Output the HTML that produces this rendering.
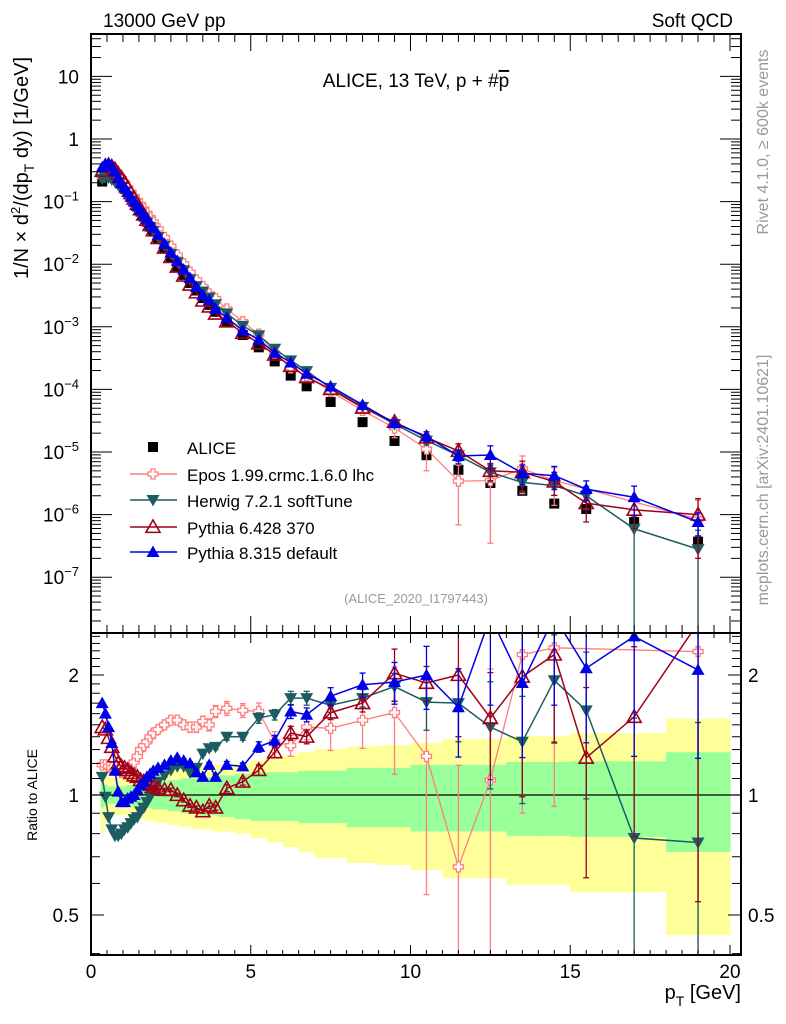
<!DOCTYPE html>
<html><head><meta charset="utf-8"><title>ALICE 13 TeV p+pbar</title>
<style>
html,body{margin:0;padding:0;background:#fff;width:786px;height:1024px;overflow:hidden;}
svg{display:block;font-family:"Liberation Sans",Arial,sans-serif;}
</style></head>
<body>
<svg id="chart" width="786" height="1024" viewBox="0 0 786 1024" xmlns="http://www.w3.org/2000/svg">
<defs>
<clipPath id="clipMain"><rect x="91" y="34" width="650" height="599"/></clipPath>
<clipPath id="clipRatio"><rect x="91" y="633" width="650" height="322"/></clipPath>
</defs>
<rect x="0" y="0" width="786" height="1024" fill="#fff"/>
<g id="ratioBands" clip-path="url(#clipRatio)"></g>
<g id="mainMarks" clip-path="url(#clipMain)"></g>
<g id="ratioMarks" clip-path="url(#clipRatio)"></g>
<g id="axes"></g>
<text x="103" y="27" font-size="19">13000 GeV pp</text>
<text x="733" y="27" font-size="19" text-anchor="end">Soft QCD</text>
<text x="416" y="87" font-size="19" text-anchor="middle">ALICE, 13 TeV, p + #<tspan text-decoration="overline">p</tspan></text>
<text x="416" y="603" font-size="13" fill="#999" text-anchor="middle">(ALICE_2020_I1797443)</text>
<text transform="translate(768,142) rotate(-90)" font-size="16" fill="#999" text-anchor="middle">Rivet 4.1.0, ≥ 600k events</text>
<text transform="translate(768,480) rotate(-90)" font-size="16" fill="#999" text-anchor="middle">mcplots.cern.ch [arXiv:2401.10621]</text>
<text transform="translate(28,168) rotate(-90)" font-size="20" text-anchor="middle">1/N × d<tspan font-size="13" dy="-8">2</tspan><tspan dy="8">/(dp</tspan><tspan font-size="14" dy="6">T</tspan><tspan dy="-6"> dy) [1/GeV]</tspan></text>
<text transform="translate(37,795) rotate(-90)" font-size="14" text-anchor="middle">Ratio to ALICE</text>
<text x="741" y="999" font-size="20" text-anchor="end">p<tspan font-size="14" dy="7">T</tspan><tspan dy="-7"> [GeV]</tspan></text>
<g id="legend"></g>
</svg>
<script>
// ---- data ----
const pT = [0.35,0.45,0.55,0.65,0.75,0.85,0.95,1.05,1.15,1.25,1.35,1.45,1.55,1.65,1.75,1.85,1.95,
  2.1,2.3,2.5,2.7,2.9,3.1,3.3,3.5,3.7,3.9,
  4.25,4.75,5.25,5.75,6.25,6.75,
  7.5,8.5,9.5,10.5,11.5,12.5,13.5,14.5,15.5,17,19];
const binEdges = [0.3,0.4,0.5,0.6,0.7,0.8,0.9,1.0,1.1,1.2,1.3,1.4,1.5,1.6,1.7,1.8,1.9,2.0,
  2.2,2.4,2.6,2.8,3.0,3.2,3.4,3.6,3.8,4.0,
  4.5,5,5.5,6,6.5,7,
  8,9,10,11,12,13,14,15,16,18,20];
const aliceValues = [0.209,0.251,0.275,0.275,0.263,0.234,0.204,0.174,0.145,0.120,0.100,0.0832,0.0692,0.0575,0.0479,0.0398,0.0331,
  0.0251,0.0178,0.0126,0.00912,0.00676,0.00501,0.00380,0.00288,0.00224,0.00174,
  1.17e-3,7.4e-4,4.7e-4,2.8e-4,1.66e-4,1.12e-4,
  6.3e-5,3.0e-5,1.5e-5,8.9e-6,5.2e-6,3.2e-6,2.4e-6,1.5e-6,1.23e-6,7.6e-7,3.7e-7];
const aliceTotErr = [0.2,0.15,0.12,0.11,0.11,0.11,0.11,0.11,0.12,0.12,0.12,0.13,0.13,0.13,0.14,0.14,0.14,
  0.15,0.15,0.16,0.16,0.17,0.17,0.18,0.18,0.18,0.19,
  0.19,0.20,0.22,0.24,0.26,0.28,
  0.305,0.325,0.333,0.352,0.381,0.381,0.405,0.405,0.43,0.43,0.555];
const aliceStatErr = [0.07,0.06,0.05,0.05,0.05,0.05,0.05,0.05,0.06,0.06,0.06,0.06,0.07,0.07,0.07,0.07,0.08,
  0.08,0.08,0.09,0.09,0.10,0.10,0.10,0.11,0.11,0.11,
  0.12,0.13,0.14,0.14,0.14,0.15,
  0.15,0.17,0.17,0.19,0.19,0.19,0.21,0.21,0.215,0.215,0.28];
const eposRatio = [1.19,1.19,1.18,1.17,1.155,1.155,1.14,1.14,1.155,1.18,1.21,1.25,1.30,1.33,1.36,1.40,1.43,
  1.46,1.50,1.54,1.54,1.50,1.48,1.48,1.53,1.50,1.62,
  1.65,1.63,1.62,1.36,1.33,1.48,
  1.47,1.54,1.61,1.25,0.66,1.09,2.25,2.34,null,null,2.29];
const eposErr = [0.01,0.01,0.01,0.01,0.01,0.01,0.01,0.01,0.01,0.01,0.01,0.015,0.015,0.015,0.015,0.02,0.02,
  0.02,0.02,0.02,0.025,0.025,0.03,0.03,0.03,0.035,0.035,
  0.04,0.04,0.05,0.06,0.06,0.07,
  0.12,0.15,0.3,0.55,0.8,0.9,0.6,0.6,0,0,1.0];
const herwigRatio = [1.11,0.99,0.88,0.82,0.79,0.79,0.80,0.82,0.83,0.85,0.87,0.88,0.91,0.93,0.96,0.99,1.03,
  1.08,1.12,1.155,1.18,1.18,1.14,1.17,1.27,1.31,1.32,
  1.40,1.40,1.56,1.59,1.75,1.75,
  1.68,1.75,1.87,1.71,1.70,1.48,1.36,1.94,1.63,0.78,0.76];
const herwigErr = [0.005,0.005,0.005,0.005,0.005,0.005,0.005,0.005,0.005,0.005,0.005,0.005,0.005,0.005,0.005,0.005,0.005,
  0.01,0.01,0.01,0.01,0.01,0.01,0.01,0.01,0.015,0.015,
  0.02,0.02,0.03,0.03,0.04,0.04,
  0.04,0.05,0.08,0.15,0.2,0.3,0.3,0.3,0.4,1.0,1.0];
const pythia6Ratio = [1.48,1.46,1.39,1.32,1.25,1.20,1.18,1.17,1.155,1.135,1.12,1.11,1.09,1.08,1.07,1.06,1.05,
  1.04,1.03,1.03,1.00,0.97,0.94,0.93,0.91,0.94,0.93,
  1.04,1.08,1.155,1.28,1.43,1.40,
  1.61,1.70,2.02,1.91,2.00,1.56,1.98,2.25,1.24,1.57,2.70];
const pythia6Err = [0.005,0.005,0.005,0.005,0.005,0.005,0.005,0.005,0.005,0.005,0.005,0.005,0.005,0.005,0.005,0.005,0.005,
  0.01,0.01,0.01,0.01,0.01,0.01,0.01,0.01,0.015,0.015,
  0.02,0.02,0.03,0.03,0.04,0.04,
  0.04,0.05,0.15,0.1,0.3,0.3,0.5,0.4,0.5,0.5,0.8];
const pythia8Ratio = [1.70,1.60,1.48,1.35,1.15,1.02,0.96,0.96,0.98,0.99,1.00,1.03,1.06,1.08,1.11,1.13,1.15,
  1.17,1.19,1.22,1.24,1.22,1.20,1.14,1.11,1.19,1.11,
  1.19,1.18,1.32,1.37,1.62,1.59,
  1.77,1.89,1.92,2.00,1.66,2.8,1.91,2.8,2.08,2.50,2.06];
const pythia8Err = [0.005,0.005,0.005,0.005,0.005,0.005,0.005,0.005,0.005,0.005,0.005,0.005,0.005,0.005,0.005,0.005,0.005,
  0.01,0.01,0.01,0.01,0.01,0.01,0.01,0.01,0.015,0.015,
  0.02,0.02,0.03,0.03,0.04,0.04,
  0.05,0.07,0.12,0.18,0.25,0.4,0.35,0.4,0.35,0.5,0.4];
const mainTickExps = [1,0,-1,-2,-3,-4,-5,-6,-7];
const ratioTickLabels = ["0.5","1","2"];
const xTickLabels = ["0","5","10","15","20"];

// ---- scales ----
const X0=91, X1=741, MT=34, MB=633, RB=955;
function xs(p){ return 91 + p*31.95; }
function ym(v){ return 139 - Math.log10(v)*62.6; }
function yr(r){ return 795 - Math.log2(r)*120; }
const NS="http://www.w3.org/2000/svg";
function mk(tag, attrs, parent){
  const e=document.createElementNS(NS,tag);
  for(const k in attrs) e.setAttribute(k,attrs[k]);
  parent.appendChild(e); return e;
}
const gBands=document.getElementById('ratioBands');
const gMain=document.getElementById('mainMarks');
const gRatio=document.getElementById('ratioMarks');
const gAx=document.getElementById('axes');
const gLeg=document.getElementById('legend');

// ---- bands ----
for(let i=0;i<pT.length;i++){
  const x0=xs(binEdges[i]), x1=xs(binEdges[i+1]);
  const yb=mk('rect',{x:x0,y:yr(1+aliceTotErr[i]),width:x1-x0+0.5,height:yr(1-aliceTotErr[i])-yr(1+aliceTotErr[i]),fill:'#ffff99'},gBands);
  
  
}
for(let i=0;i<pT.length;i++){
  const x0=xs(binEdges[i]), x1=xs(binEdges[i+1]);
  const gb=mk('rect',{x:x0,y:yr(1+aliceStatErr[i]),width:x1-x0+0.5,height:yr(1-aliceStatErr[i])-yr(1+aliceStatErr[i]),fill:'#99ff99'},gBands);
  
  
}
const one=mk('line',{x1:X0,x2:X1,y1:yr(1),y2:yr(1),stroke:'#000','stroke-width':1.2},gBands);



// ---- markers ----
function marker(type,x,y,color,parent,s){
  let e;
  if(type==='square'){ e=mk('rect',{x:x-s/2,y:y-s/2,width:s,height:s,fill:color},parent); }
  else if(type==='cross'){
    const a=s/2,b=s/5;
    const d=`M${x-b},${y-a}H${x+b}V${y-b}H${x+a}V${y+b}H${x+b}V${y+a}H${x-b}V${y+b}H${x-a}V${y-b}H${x-b}Z`;
    e=mk('path',{d:d,fill:'#fff',stroke:color,'stroke-width':1.3},parent);
  } else if(type==='tridown'){
    e=mk('path',{d:`M${x-s/2},${y-s/2.6}L${x+s/2},${y-s/2.6}L${x},${y+s/2}Z`,fill:color},parent);
  } else if(type==='triopen'){
    e=mk('path',{d:`M${x-s/2},${y+s/2.6}L${x+s/2},${y+s/2.6}L${x},${y-s/2}Z`,fill:'none',stroke:color,'stroke-width':1.6},parent);
  } else {
    e=mk('path',{d:`M${x-s/2},${y+s/2.6}L${x+s/2},${y+s/2.6}L${x},${y-s/2}Z`,fill:color},parent);
  }
  return e;
}
const models=[
  {name:'epos',ratio:eposRatio,err:eposErr,color:'#ff7f7f',type:'cross',size:10,lw:1.3},
  {name:'herwig',ratio:herwigRatio,err:herwigErr,color:'#1d5d62',type:'tridown',size:13,lw:1.5},
  {name:'pythia6',ratio:pythia6Ratio,err:pythia6Err,color:'#a00018',type:'triopen',size:14,lw:1.5},
  {name:'pythia8',ratio:pythia8Ratio,err:pythia8Err,color:'#0000e6',type:'triup',size:13,lw:1.5}
];

// ALICE in main
for(let i=0;i<pT.length;i++){
  const x=xs(pT[i]), v=aliceValues[i], e=aliceStatErr[i]*0.6;
  const eb=mk('line',{x1:x,x2:x,y1:ym(v*(1+e)),y2:ym(Math.max(v*(1-e),1e-9)),stroke:'#000','stroke-width':1.3},gMain);
  
  
  const m=marker('square',x,ym(v),'#000',gMain,10);
  
  
}
function drawModel(md,panel){
  const parent = panel==='main'?gMain:gRatio;
  const g=mk('g',{},parent);
  
  
  const pts=[];
  for(let i=0;i<pT.length;i++){
    const r=md.ratio[i]; if(r===null) continue;
    const x=xs(pT[i]);
    let y,yu,yd;
    const lo=Math.max(r*(1-md.err[i]),1e-3), hi=r*(1+md.err[i]);
    if(panel==='main'){ const v=aliceValues[i]; y=ym(v*r); yu=ym(v*hi); yd=ym(v*lo); }
    else { y=yr(r); yu=yr(hi); yd=yr(lo); }
    pts.push([x,y,yu,yd]);
  }
  const d=pts.map((p,k)=>(k?'L':'M')+p[0].toFixed(1)+','+p[1].toFixed(1)).join('');
  const ln=mk('path',{d:d,fill:'none',stroke:md.color,'stroke-width':md.lw},g);
  
  
  pts.forEach(p=>{
    if(Math.abs(p[3]-p[2])>3){
      const eb=mk('line',{x1:p[0],x2:p[0],y1:p[2],y2:p[3],stroke:md.color,'stroke-width':1.3},g);
      
      
      mk('line',{x1:p[0]-3,x2:p[0]+3,y1:p[2],y2:p[2],stroke:md.color,'stroke-width':1.3},g);
      mk('line',{x1:p[0]-3,x2:p[0]+3,y1:p[3],y2:p[3],stroke:md.color,'stroke-width':1.3},g);
    }
    const m=marker(md.type,p[0],p[1],md.color,g,md.size);
    
    
  });
}
models.forEach(md=>drawModel(md,'main'));
models.forEach(md=>drawModel(md,'ratio'));

// ---- axes ----
function L(x1,y1,x2,y2,w){ return mk('line',{x1:x1,y1:y1,x2:x2,y2:y2,stroke:'#000','stroke-width':w||1},gAx); }
const fr1=mk('rect',{x:X0,y:MT,width:X1-X0,height:MB-MT,fill:'none',stroke:'#000','stroke-width':2},gAx);


const fr2=mk('rect',{x:X0,y:MB,width:X1-X0,height:RB-MB,fill:'none',stroke:'#000','stroke-width':2},gAx);


for(let k=0;k<=40;k++){
  const p=k*0.5, x=xs(p); if(x>X1) break;
  const major=(k%10===0);
  L(x,MT,x,MT+(major?17:8));
  L(x,MB,x,MB-(major?17:8));
  L(x,MB,x,MB+(major?10:5));
  L(x,RB,x,RB-(major?10:5));
}
xTickLabels.forEach(t=>{
  const tx=mk('text',{x:xs(parseFloat(t)),y:978,'font-size':19,'text-anchor':'middle'},gAx);
  tx.textContent=t;
  
  
});
for(let e=-8;e<=1;e++){
  for(let m=1;m<=9;m++){
    const v=m*Math.pow(10,e), y=ym(v);
    if(y<MT||y>MB) continue;
    const len=(m===1)?21:10;
    L(X0,y,X0+len,y); L(X1,y,X1-len,y);
  }
}
mainTickExps.forEach(e=>{
  const y=ym(Math.pow(10,e));
  const t=mk('text',{x:79,y:y+7,'font-size':19,'text-anchor':'end'},gAx);
  
  
  if(e===1) t.textContent='10';
  else if(e===0) t.textContent='1';
  else {
    t.appendChild(document.createTextNode('10'));
    const s=document.createElementNS(NS,'tspan');
    s.setAttribute('font-size','13'); s.setAttribute('dy','-8');
    s.textContent=String(e).replace('-','\u2212');
    t.appendChild(s);
  }
});
for(let k=4;k<=25;k++){
  const r=k/10, y=yr(r); if(y<MB||y>RB) continue;
  const major=(k===5||k===10||k===20);
  const len=major?13:9;
  L(X0,y,X0+len,y); L(X1,y,X1-len,y);
}
ratioTickLabels.forEach(t=>{
  const y=yr(parseFloat(t));
  const a=mk('text',{x:79,y:y+7,'font-size':19,'text-anchor':'end'},gAx);
  a.textContent=t;
  
  
  const b=mk('text',{x:748,y:y+7,'font-size':19,'text-anchor':'start'},gAx);
  b.textContent=t;
  
  
});

// ---- legend ----
const legendNames=['ALICE','Epos 1.99.crmc.1.6.0 lhc','Herwig 7.2.1 softTune','Pythia 6.428 370','Pythia 8.315 default'];
const legendY=[447,474,500,527,552];
legendNames.forEach((n,i)=>{
  const g=mk('g',{},gLeg);
  
  
  const y=legendY[i];
  if(i===0){ marker('square',153,y,'#000',g,10); }
  else {
    const md=models[i-1];
    mk('line',{x1:130,x2:177,y1:y,y2:y,stroke:md.color,'stroke-width':1.5},g);
    marker(md.type,153,y,md.color,g,md.size);
  }
  const t=mk('text',{x:187,y:y+7,'font-size':17},g);
  t.textContent=n;
});
</script>
</body></html>
